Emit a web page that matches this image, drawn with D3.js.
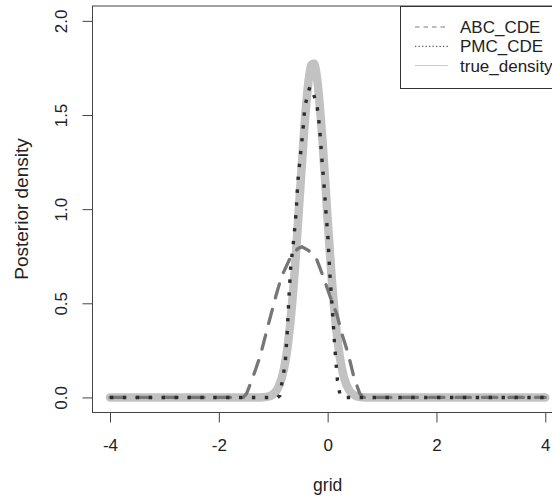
<!DOCTYPE html>
<html>
<head>
<meta charset="utf-8">
<script src="https://cdn.jsdelivr.net/npm/d3@7"></script>
<style>
  body { margin: 0; background: #fff; }
  svg { display: block; font-family: "Liberation Sans", Arial, sans-serif; }
</style>
</head>
<body>
<script>
var w = 552;
var h = 501;

// ABC_CDE posterior (dashed)
var abcX = [-4, -1.55, -1.49, -1.37, -1.24, -1.15, -1.06, -0.95, -0.85, -0.69, -0.55, -0.47, -0.35, -0.21, -0.08, 0.04, 0.17, 0.27, 0.38, 0.48, 0.59, 0.65, 4];
var abcY = [0, 0, 0.02, 0.11, 0.22, 0.32, 0.42, 0.54, 0.64, 0.74, 0.79, 0.80, 0.78, 0.74, 0.64, 0.54, 0.44, 0.33, 0.23, 0.11, 0.02, 0, 0];

// PMC_CDE posterior (dotted)
var pmcX = [-4, -0.92, -0.88, -0.85, -0.78, -0.74, -0.71, -0.68, -0.62, -0.58, -0.55, -0.51, -0.46, -0.42, -0.36, -0.325, -0.26, -0.20, -0.15, -0.11, -0.07, -0.03, 0.005, 0.04, 0.09, 0.13, 0.18, 0.23, 0.26, 4];
var pmcY = [0, 0, 0.01, 0.06, 0.18, 0.36, 0.54, 0.69, 0.85, 0.98, 1.14, 1.26, 1.40, 1.54, 1.62, 1.65, 1.61, 1.56, 1.44, 1.28, 1.14, 0.98, 0.85, 0.66, 0.45, 0.27, 0.09, 0.01, 0, 0];

// true density (thick light grey)
var trueX = [-4, -1.3, -1.2, -1.1, -1.0, -0.9, -0.8, -0.7, -0.6, -0.5, -0.4, -0.35, -0.3, -0.25, -0.2, -0.1, 0.0, 0.1, 0.2, 0.3, 0.4, 0.5, 0.6, 0.7, 4];
var trueY = [0, 0, 0.001, 0.004, 0.017, 0.057, 0.155, 0.357, 0.692, 1.125, 1.537, 1.684, 1.766, 1.774, 1.706, 1.385, 0.945, 0.542, 0.262, 0.106, 0.036, 0.010, 0.002, 0, 0];

var xTicks = [-4, -2, 0, 2, 4];
var yTicks = [0, 0.5, 1, 1.5, 2];
var legendNames = ["ABC_CDE", "PMC_CDE", "true_density"];

var svg = d3.select("body")
            .append("svg")
              .attr("width", w)
              .attr("height", h);

var x = d3.scaleLinear().domain([-4.32, 4.32]).range([92.6, 562.7]);
var y = d3.scaleLinear().domain([-0.08, 2.08]).range([412.5, 5.8]);

function pts(xs, ys) {
	return xs.map(function(d, i) { return [d, ys[i]]; });
}

var line = d3.line()
	.x(function(d) { return x(d[0]); })
	.y(function(d) { return y(d[1]); });

var smooth = d3.line()
	.x(function(d) { return x(d[0]); })
	.y(function(d) { return y(d[1]); })
	.curve(d3.curveMonotoneX);

//curves
svg.append("path")
	.attr("d", smooth(pts(trueX, trueY)))
	.attr("fill", "none")
	.attr("stroke", "#c2c2c2")
	.attr("stroke-width", 8.5)
	.attr("stroke-linejoin", "round")
	.attr("stroke-linecap", "round");

svg.append("path")
	.attr("d", line(pts(abcX, abcY)))
	.attr("fill", "none")
	.attr("stroke", "#767676")
	.attr("stroke-width", 3.3)
	.attr("stroke-dasharray", "14.5 12")
	.attr("stroke-linecap", "round");

svg.append("path")
	.attr("d", line(pts(pmcX, pmcY)))
	.attr("fill", "none")
	.attr("stroke", "#2e2e2e")
	.attr("stroke-width", 3.4)
	.attr("stroke-dasharray", "3.4 9.5");

//axes
var xAxis = svg.append("g")
	.attr("transform", "translate(0,412.5)")
	.call(d3.axisBottom(x).tickValues(xTicks).tickSize(10).tickFormat(function(d) { return String(d); }));
xAxis.select(".domain").remove();
xAxis.selectAll("line").attr("stroke", "#444");
xAxis.selectAll("text")
	.attr("y", 38.5).attr("dy", null)
	.attr("fill", "#222")
	.style("font-size", "17px");

var yAxis = svg.append("g")
	.attr("transform", "translate(92.5,0)")
	.call(d3.axisLeft(y).tickValues(yTicks).tickSize(10).tickFormat(d3.format(".1f")));
yAxis.select(".domain").remove();
yAxis.selectAll("line").attr("stroke", "#444");
yAxis.selectAll("text")
	.attr("transform", "rotate(-90)")
	.attr("x", 0).attr("y", -25.5).attr("dy", null)
	.attr("text-anchor", "middle")
	.attr("fill", "#222")
	.style("font-size", "17px");

//plot box
svg.append("rect")
	.attr("x", 92.5).attr("y", 6)
	.attr("width", 470).attr("height", 406.5)
	.attr("fill", "none")
	.attr("stroke", "#444");

//titles
svg.append("text")
	.attr("transform", "translate(28,209) rotate(-90)")
	.attr("text-anchor", "middle")
	.attr("fill", "#222")
	.style("font-size", "19px")
	.text("Posterior density");

svg.append("text")
	.attr("x", 327.7).attr("y", 491)
	.attr("text-anchor", "middle")
	.attr("fill", "#222")
	.style("font-size", "17.5px")
	.text("grid");

//legend
var legend = svg.append("g");
legend.append("rect")
	.attr("x", 400.5).attr("y", 6.5)
	.attr("width", 170).attr("height", 82)
	.attr("fill", "#fff")
	.attr("stroke", "#333");

var legendStyle = [
	{ stroke: "#7a7a7a", dash: "4.5 4" },
	{ stroke: "#333", dash: "1.3 2.2" },
	{ stroke: "#c8c8c8", dash: null }
];

legendNames.forEach(function(name, i) {
	var cy = 27 + i * 19.3;
	legend.append("line")
		.attr("x1", 415).attr("x2", 448)
		.attr("y1", cy).attr("y2", cy)
		.attr("stroke", legendStyle[i].stroke)
		.attr("stroke-width", 1)
		.attr("stroke-dasharray", legendStyle[i].dash);
	legend.append("text")
		.attr("x", 460).attr("y", cy + 6)
		.attr("fill", "#222")
		.style("font-size", "17px")
		.text(name);
});
</script>
</body>
</html>
